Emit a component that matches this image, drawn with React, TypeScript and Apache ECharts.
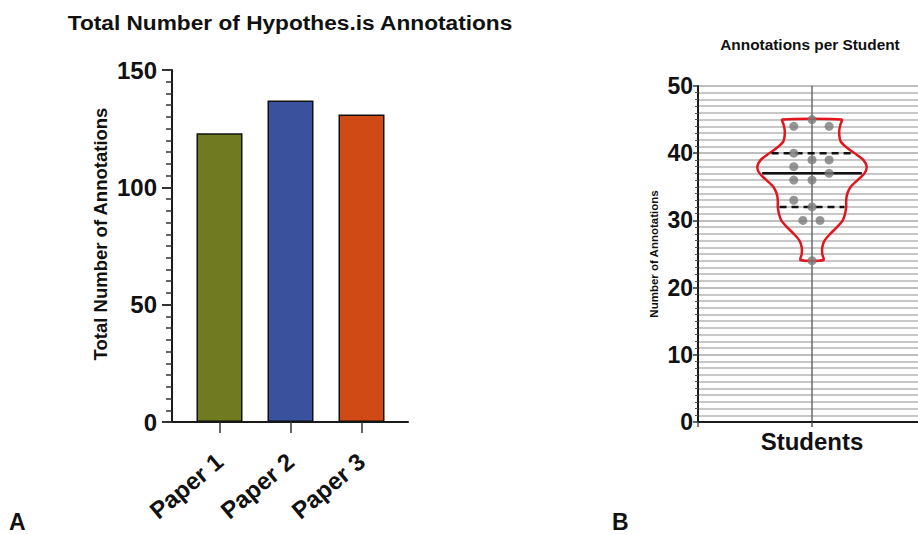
import React, { useEffect, useRef } from "react";
import * as echarts from "echarts";

// ---- Panel A data ----
const PAPERS = ["Paper 1", "Paper 2", "Paper 3"];
const TOTALS = [123, 137, 131];
const BAR_COLORS = ["#6f7a21", "#3a529e", "#d04a15"];
const A_Y_MAX = 150;
const A_Y_INTERVAL = 50;

// ---- Panel B data ----
const STUDENT_VALUES = [45, 44, 44, 40, 39, 39, 38, 37, 36, 36, 33, 32, 30, 30, 24];
const STUDENT_X_OFFSETS = [0, -0.16, 0.15, -0.16, 0, 0.15, -0.16, 0.15, -0.16, 0, -0.16, 0, -0.08, 0.07, 0];
const VIOLIN_LEVELS = [45.0, 44.3, 43.5, 42.6, 41.8, 41.2, 40.5, 39.8, 39.0, 38.0, 37.0, 36.0, 35.0, 34.0, 33.0, 32.0, 31.0, 30.0, 29.0, 28.0, 27.0, 26.0, 25.0, 24.1];
const VIOLIN_HALF_WIDTHS = [0.26, 0.25, 0.24, 0.24, 0.25, 0.28, 0.33, 0.39, 0.45, 0.48, 0.46, 0.4, 0.34, 0.31, 0.3, 0.3, 0.29, 0.27, 0.22, 0.16, 0.11, 0.09, 0.09, 0.1];
const QUARTILE_VALUES = [32, 37, 40];
const QUARTILE_KINDS = ["dash", "solid", "dash"];
const B_Y_MAX = 50;
const B_Y_INTERVAL = 10;

const FONT = "'Liberation Sans', Arial, Helvetica, sans-serif";

function halfWidthAt(v: number): number {
  for (let i = 0; i < VIOLIN_LEVELS.length - 1; i++) {
    const a = VIOLIN_LEVELS[i];
    const b = VIOLIN_LEVELS[i + 1];
    if (v <= a && v >= b) {
      const t = (a - v) / (a - b);
      return VIOLIN_HALF_WIDTHS[i] + t * (VIOLIN_HALF_WIDTHS[i + 1] - VIOLIN_HALF_WIDTHS[i]);
    }
  }
  return 0;
}

export default function App() {
  const ref = useRef<HTMLDivElement>(null);
  useEffect(() => {
    if (!ref.current) return;
    const chart = echarts.init(ref.current, null, { renderer: "svg" });
    const axisBlack = "#1a1a1a";
    const option: any = {
      animation: false,
      backgroundColor: "#ffffff",
      textStyle: { fontFamily: FONT },
      grid: [
        { left: 172, top: 70, width: 236, height: 352, outerBoundsMode: "none", containLabel: false },
        { left: 184, top: 70, width: 213, height: 352, outerBoundsMode: "none", containLabel: false },
        { left: 698, top: 86, width: 228, height: 336, outerBoundsMode: "none", containLabel: false },
      ],
      xAxis: [
        {
          gridIndex: 0,
          type: "value",
          min: 0,
          max: 1,
          axisLine: { show: true, onZero: false, lineStyle: { color: axisBlack, width: 2 } },
          axisTick: { show: false },
          axisLabel: { show: false },
          splitLine: { show: false },
        },
        {
          gridIndex: 1,
          type: "category",
          data: PAPERS,
          axisLine: { show: false },
          axisTick: { show: true, alignWithLabel: true, length: 11, lineStyle: { color: "#333", width: 1.5 } },
          axisLabel: {
            rotate: 40,
            margin: 36,
            fontFamily: FONT,
            fontWeight: "bold",
            fontSize: 24,
            color: "#111",
          },
        },
        {
          gridIndex: 2,
          type: "value",
          min: -1,
          max: 1,
          interval: 1,
          axisLine: { show: true, onZero: false, lineStyle: { color: axisBlack, width: 2 } },
          axisTick: { show: true, length: 5, lineStyle: { color: "#555", width: 1.5 } },
          axisLabel: {
            margin: 7,
            fontFamily: FONT,
            fontWeight: "bold",
            fontSize: 24,
            color: "#111",
            formatter: (v: number) => (v === 0 ? "Students" : ""),
          },
          splitLine: { show: true, lineStyle: { color: "#6a6a6a", width: 1.5 } },
        },
      ],
      yAxis: [
        {
          gridIndex: 0,
          type: "value",
          min: 0,
          max: A_Y_MAX,
          interval: A_Y_INTERVAL,
          axisLine: { show: true, onZero: false, lineStyle: { color: axisBlack, width: 2 } },
          axisTick: { show: true, length: 10, lineStyle: { color: "#333", width: 2 } },
          minorTick: { show: true, splitNumber: 10, length: 6, lineStyle: { color: "#333", width: 1.5 } },
          axisLabel: { margin: 15, fontFamily: FONT, fontWeight: "bold", fontSize: 24, color: "#111" },
          splitLine: { show: false },
        },
        {
          gridIndex: 1,
          type: "value",
          min: 0,
          max: A_Y_MAX,
          show: false,
        },
        {
          gridIndex: 2,
          type: "value",
          min: 0,
          max: B_Y_MAX,
          interval: B_Y_INTERVAL,
          name: "Number of Annotations",
          nameLocation: "middle",
          nameRotate: 90,
          nameGap: 38,
          nameTextStyle: { fontFamily: FONT, fontWeight: "bold", fontSize: 11.5, color: "#111" },
          axisLine: { show: true, onZero: false, lineStyle: { color: axisBlack, width: 2 } },
          axisTick: { show: true, length: 5, lineStyle: { color: "#333", width: 1.5 } },
          minorTick: { show: true, splitNumber: 10, length: 3, lineStyle: { color: "#555", width: 1 } },
          axisLabel: { margin: 5, fontFamily: FONT, fontWeight: "bold", fontSize: 23, color: "#111" },
          splitLine: { show: true, lineStyle: { color: "#a8a8a8", width: 1.5 } },
          minorSplitLine: { show: true, lineStyle: { color: "#b4b4b4", width: 1.5 } },
        },
      ],
      series: [
        {
          type: "bar",
          xAxisIndex: 1,
          yAxisIndex: 1,
          barWidth: 46,
          data: TOTALS.map((v, i) => ({
            value: v,
            itemStyle: { color: BAR_COLORS[i], borderColor: "#111", borderWidth: 1.5 },
          })),
        },
        {
          type: "custom",
          xAxisIndex: 2,
          yAxisIndex: 2,
          z: 3,
          data: VIOLIN_LEVELS.map((v, i) => [VIOLIN_HALF_WIDTHS[i], v]),
          renderItem: (params: any, api: any) => {
            if (params.dataIndex !== 0) return null;
            const right = VIOLIN_LEVELS.map((v, i) => api.coord([VIOLIN_HALF_WIDTHS[i], v]));
            const left = VIOLIN_LEVELS.map((v, i) => api.coord([-VIOLIN_HALF_WIDTHS[i], v])).reverse();
            return {
              type: "polygon",
              shape: { points: [...right, ...left], smooth: 0.25 },
              style: { fill: "none", stroke: "#e3141b", lineWidth: 2.5 },
            };
          },
        },
        {
          type: "custom",
          xAxisIndex: 2,
          yAxisIndex: 2,
          z: 4,
          data: QUARTILE_VALUES.map((v) => [0, v]),
          renderItem: (params: any, api: any) => {
            const v = api.value(1);
            const kind = QUARTILE_KINDS[params.dataIndex];
            const hw = halfWidthAt(v) * 0.95;
            const p1 = api.coord([-hw, v]);
            const p2 = api.coord([hw, v]);
            return {
              type: "line",
              shape: { x1: p1[0], y1: p1[1], x2: p2[0], y2: p2[1] },
              style: {
                stroke: "#111",
                lineWidth: 2.5,
                lineDash: kind === "dash" ? [7, 5] : null,
              },
            };
          },
        },
        {
          type: "scatter",
          xAxisIndex: 2,
          yAxisIndex: 2,
          z: 5,
          symbolSize: 9,
          itemStyle: { color: "#7a7a7a" },
          data: STUDENT_VALUES.map((v, i) => [STUDENT_X_OFFSETS[i], v]),
        },
      ],
      graphic: [
        {
          type: "text",
          x: 290,
          y: 23,
          scaleX: 1.08,
          style: {
            text: "Total Number of Hypothes.is Annotations",
            fontFamily: FONT,
            fontWeight: "bold",
            fontSize: 21,
            fill: "#111",
            textAlign: "center",
            textVerticalAlign: "middle",
          },
        },
        {
          type: "text",
          x: 100,
          y: 234,
          rotation: Math.PI / 2,
          style: {
            text: "Total Number of Annotations",
            fontFamily: FONT,
            fontWeight: "bold",
            fontSize: 18.5,
            fill: "#111",
            textAlign: "center",
            textVerticalAlign: "middle",
          },
        },
        {
          type: "text",
          x: 810,
          y: 45,
          scaleX: 1.1,
          style: {
            text: "Annotations per Student",
            fontFamily: FONT,
            fontWeight: "bold",
            fontSize: 14,
            fill: "#111",
            textAlign: "center",
            textVerticalAlign: "middle",
          },
        },
        {
          type: "text",
          x: 9,
          y: 533,
          style: {
            text: "A",
            fontFamily: FONT,
            fontWeight: "bold",
            fontSize: 23,
            fill: "#111",
            textAlign: "left",
            textVerticalAlign: "bottom",
          },
        },
        {
          type: "text",
          x: 612,
          y: 533,
          style: {
            text: "B",
            fontFamily: FONT,
            fontWeight: "bold",
            fontSize: 23,
            fill: "#111",
            textAlign: "left",
            textVerticalAlign: "bottom",
          },
        },
      ],
    };
    chart.setOption(option);
    return () => chart.dispose();
  }, []);
  return (
    <div
      ref={ref}
      style={{ position: "fixed", left: 0, top: 0, width: 918, height: 535, background: "#fff" }}
    />
  );
}
